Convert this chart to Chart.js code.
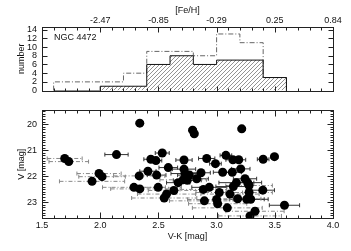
<!DOCTYPE html>
<html><head><meta charset="utf-8">
<script src="https://cdn.jsdelivr.net/npm/chart.js@4/dist/chart.umd.min.js"></script>
<style>
html,body{margin:0;padding:0;background:#fff;width:351px;height:251px;overflow:hidden;}
canvas{position:absolute;left:0;}
#top{top:0;}
#bot{top:100px;}
</style></head><body>
<canvas id="top" width="351" height="101"></canvas>
<canvas id="bot" width="351" height="151"></canvas>
<script>
// ---- histogram data (V-K bins) ----
const binEdges  = [1.6,1.8,2.0,2.2,2.4,2.6,2.8,3.0,3.2,3.4,3.6];
const allCounts = [2,2,2,4,9,9,8,13,11,3];
const subCounts = [0,0,1,1,6,8,6,7,7,3];
// ---- axis tick labels ----
const feHTickVK = [2.0,2.5,3.0,3.5,4.0];
const feHLabels = ['-2.47','-0.85','-0.29','0.25','0.84'];
const numberTicks = [0,2,4,6,8,10,12,14];
const vkTicks = [1.5,2.0,2.5,3.0,3.5,4.0];
const vTicks = [20,21,22,23];
// ---- globular clusters ----
const vk    = [2.34,1.695,1.73,2.14,1.99,2.016,1.93,2.335,2.41,2.435,2.479,2.533,2.485,2.585,2.29,2.34,2.498,2.633,2.57,2.55,2.67,
               2.794,2.808,3.216,2.72,2.915,2.99,3.08,3.14,3.19,3.40,3.497,2.72,2.728,2.765,2.866,3.052,3.135,3.207,2.713,2.748,2.829,
               2.886,2.937,3.023,3.115,3.144,3.17,3.244,3.267,3.279,3.279,3.397,2.895,3.00,3.009,3.092,3.181,3.259,3.293,3.583,3.33,3.287];
const vMag  = [19.96,21.32,21.44,21.17,21.90,22.02,22.20,21.99,21.81,21.35,21.40,21.11,21.96,21.67,22.43,22.49,22.43,22.55,22.69,22.84,22.25,
               20.23,20.37,20.18,21.38,21.32,21.52,21.20,21.37,21.37,21.35,21.25,21.73,21.90,21.96,21.87,21.85,21.85,21.72,22.14,22.16,22.10,
               22.51,22.43,22.63,22.69,22.40,22.25,22.10,22.25,22.36,22.63,22.54,22.95,22.90,23.06,23.22,22.87,22.89,22.89,23.12,23.35,23.53];
const vkErr = [0.03,0.15,0.17,0.10,0.19,0.20,0.28,0.22,0.07,0.06,0.05,0.06,0.08,0.08,0.27,0.25,0.20,0.22,0.25,0.28,0.10,
               0.03,0.03,0.03,0.07,0.07,0.05,0.05,0.06,0.06,0.05,0.03,0.10,0.12,0.10,0.08,0.08,0.08,0.08,0.20,0.12,0.10,
               0.20,0.15,0.20,0.25,0.15,0.15,0.10,0.12,0.20,0.20,0.10,0.30,0.25,0.25,0.30,0.20,0.15,0.15,0.13,0.25,0.27];
const inSubsample = [1,0,0,1,0,0,0,0,1,1,1,1,1,1,0,0,0,0,0,0,1,
                     1,1,1,1,1,1,1,1,1,1,1,1,1,1,1,1,1,1,0,1,1,
                     0,1,0,0,1,1,1,1,0,0,1,0,0,0,0,0,1,1,1,0,0];

const FONT = {family:'"Liberation Sans", Arial, Helvetica, sans-serif', size:9, lineHeight:1.2};
const TXT = '#111';

function stepData(counts){
  const pts=[{x:binEdges[0],y:0}];
  counts.forEach((c,i)=>pts.push({x:binEdges[i],y:c}));
  pts.push({x:binEdges[binEdges.length-1],y:0});
  return pts;
}
function hatch(){
  const s=4, c=document.createElement('canvas'); c.width=s; c.height=s;
  const g=c.getContext('2d'); g.strokeStyle='#777'; g.lineWidth=0.8;
  g.beginPath(); g.moveTo(0,s); g.lineTo(s,0); g.moveTo(-1,1); g.lineTo(1,-1); g.moveTo(s-1,s+1); g.lineTo(s+1,s-1); g.stroke();
  return g.createPattern(c,'repeat');
}

const frameTicks = {
  id:'frameTicks',
  afterDraw(chart, args, o){
    const {ctx, chartArea:a, scales} = chart;
    const xs=scales.x, ys=scales.y;
    const L=Math.round(a.left)+0.5, R=Math.round(a.right)+0.5, T=Math.round(a.top)+0.5, B=Math.round(a.bottom)+o.bOff;
    ctx.save();
    ctx.strokeStyle='#222'; ctx.lineWidth=1;
    ctx.strokeRect(L,T,R-L,B-T);
    ctx.beginPath();
    const isMaj=(v,m)=>Math.abs(v/m-Math.round(v/m))<1e-6;
    const loop=(sc,minor,major,fn)=>{
      const lo=Math.min(sc.min,sc.max), hi=Math.max(sc.min,sc.max);
      const i0=Math.ceil(lo/minor-1e-6), i1=Math.floor(hi/minor+1e-6);
      for(let i=i0;i<=i1;i++){const v=i*minor; fn(Math.round(sc.getPixelForValue(v))+0.5, isMaj(v,major)?o.majLen:o.minLen);}
    };
    loop(xs,o.xMinor,o.xMajor,(p,len)=>{ctx.moveTo(p,B);ctx.lineTo(p,B-len);ctx.moveTo(p,T);ctx.lineTo(p,T+len);});
    loop(ys,o.yMinor,o.yMajor,(p,len)=>{ctx.moveTo(L,p);ctx.lineTo(L+len,p);ctx.moveTo(R,p);ctx.lineTo(R-len,p);});
    ctx.stroke();
    if(o.label){
      ctx.fillStyle=TXT; ctx.font='9px "Liberation Sans", Arial, sans-serif';
      ctx.textBaseline='alphabetic'; ctx.textAlign='left';
      ctx.fillText(o.label, a.left+12, a.top+13);
    }
    ctx.restore();
  }
};

new Chart(document.getElementById('top'), {
  type:'line',
  data:{datasets:[
    {data:stepData(subCounts), stepped:'before', borderColor:'#111', borderWidth:1, pointRadius:0, fill:'origin', backgroundColor:hatch()},
    {data:stepData(allCounts), stepped:'before', borderColor:'#666', borderWidth:1, borderDash:[5,2,1,2], pointRadius:0, fill:false}
  ]},
  options:{
    responsive:false, animation:false, events:[],
    layout:{padding:{left:0,right:18,top:0,bottom:1}},
    plugins:{legend:{display:false}, tooltip:{enabled:false},
      frameTicks:{xMinor:0.1,xMajor:0.5,yMinor:2,yMajor:2,majLen:5,minLen:3,bOff:0.5,label:'NGC 4472'}},
    scales:{
      x:{type:'linear', position:'top', min:1.5, max:4.0,
        afterBuildTicks:s=>{s.ticks=feHTickVK.map(v=>({value:v}));},
        afterFit:s=>{s.height=27;},
        grid:{display:false,drawTicks:false}, border:{display:false},
        ticks:{autoSkip:false,maxRotation:0,padding:1.5,color:TXT,font:FONT,callback:(v,i)=>feHLabels[i]},
        title:{display:true,text:'[Fe/H]',color:TXT,font:FONT,padding:{top:5.3,bottom:0}}},
      y:{type:'linear', min:0, max:14.6,
        afterBuildTicks:s=>{s.ticks=numberTicks.map(v=>({value:v}));},
        afterFit:s=>{s.width=42;},
        grid:{display:false,drawTicks:false}, border:{display:false},
        ticks:{autoSkip:false,padding:5,color:TXT,font:FONT},
        title:{display:true,text:'number',color:TXT,font:FONT,padding:{top:16.6,bottom:0}}}
    }
  },
  plugins:[frameTicks]
});

const errSets = vk.map((x,i)=>({
  type:'line', showLine:true, order:1,
  data:[{x:x-vkErr[i],y:vMag[i]},{x:x+vkErr[i],y:vMag[i]}],
  borderColor: inSubsample[i] ? '#333' : '#888',
  borderWidth:1,
  borderDash: inSubsample[i] ? [] : [4,2,1,2],
  pointStyle:'line', pointRotation:90, pointRadius:2, pointBorderWidth:1,
  pointBorderColor: inSubsample[i] ? '#333' : '#888', pointHoverRadius:0
}));

new Chart(document.getElementById('bot'), {
  type:'scatter',
  data:{datasets:[
    {data:vk.map((x,i)=>({x:x,y:vMag[i]})), order:0, pointRadius:4.5, pointBackgroundColor:'#000', pointBorderWidth:0, pointHoverRadius:4.5},
    ...errSets
  ]},
  options:{
    responsive:false, animation:false, events:[],
    layout:{padding:{left:0,right:18,top:0,bottom:0}},
    plugins:{legend:{display:false}, tooltip:{enabled:false},
      frameTicks:{xMinor:0.1,xMajor:0.5,yMinor:0.1,yMajor:1,majLen:6,minLen:3,bOff:0.5,label:null}},
    scales:{
      x:{type:'linear', position:'bottom', min:1.5, max:4.0,
        afterBuildTicks:s=>{s.ticks=vkTicks.map(v=>({value:v}));},
        afterFit:s=>{s.height=33;},
        grid:{display:false,drawTicks:false}, border:{display:false},
        ticks:{autoSkip:false,maxRotation:0,padding:2.6,color:TXT,font:FONT,callback:v=>v.toFixed(1)},
        title:{display:true,text:'V-K [mag]',color:TXT,font:FONT,padding:{top:0,bottom:8.6}}},
      y:{type:'linear', reverse:true, min:19.47, max:23.61,
        afterBuildTicks:s=>{s.ticks=vTicks.map(v=>({value:v}));},
        afterFit:s=>{s.width=42;},
        grid:{display:false,drawTicks:false}, border:{display:false},
        ticks:{autoSkip:false,padding:5,color:TXT,font:FONT},
        title:{display:true,text:'V [mag]',color:TXT,font:FONT,padding:{top:16.6,bottom:0}}}
    }
  },
  plugins:[frameTicks]
});
</script>
</body></html>
